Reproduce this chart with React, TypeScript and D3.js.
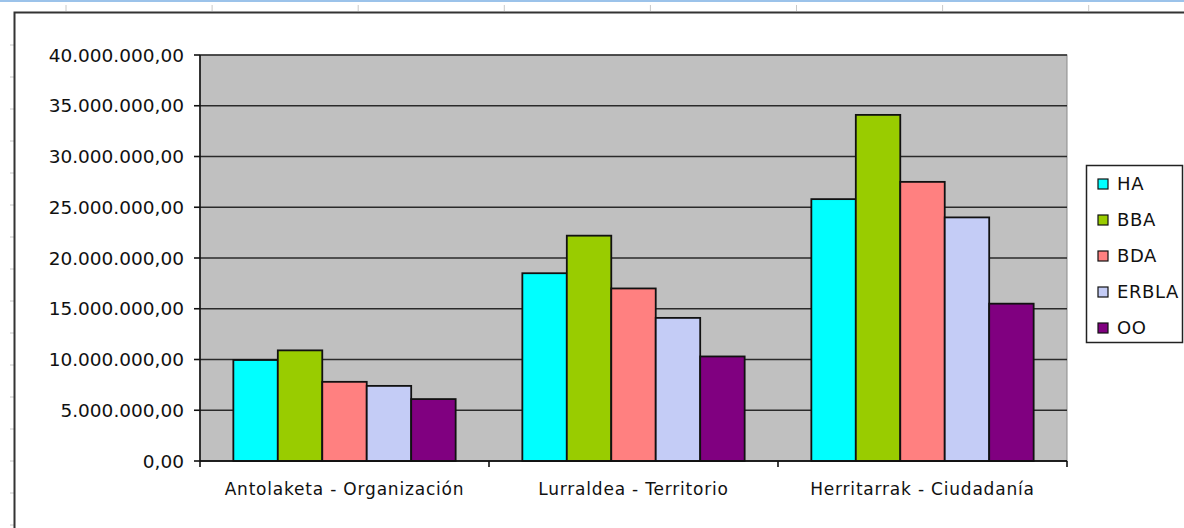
import React, { useEffect } from "react";
import * as d3 from "d3";

// categorías del eje X
const categories = [
  "Antolaketa - Organización",
  "Lurraldea - Territorio",
  "Herritarrak - Ciudadanía",
];

// series
const seriesNames = ["HA", "BBA", "BDA", "ERBLA", "OO"];
const haValues = [9950000, 18500000, 25800000];
const bbaValues = [10900000, 22200000, 34100000];
const bdaValues = [7800000, 17000000, 27500000];
const erblaValues = [7400000, 14100000, 24000000];
const ooValues = [6100000, 10300000, 15500000];

const yTicks = [0, 5000000, 10000000, 15000000, 20000000, 25000000, 30000000, 35000000, 40000000];

const colors = ["#00ffff", "#99cc00", "#ff8080", "#c4ccf6", "#800080"];

const W = 1184;
const H = 528;
const plot = { left: 200, right: 1067, top: 55, bottom: 461 };

const locale = d3.formatLocale({
  decimal: ",",
  thousands: ".",
  grouping: [3],
  currency: ["", ""],
});
const fmt = locale.format(",.2f");

const App = () => {
  useEffect(() => {
    document.body.style.margin = "0";
  }, []);

  const allSeries = [haValues, bbaValues, bdaValues, erblaValues, ooValues];

  const x0 = d3
    .scaleBand<string>()
    .domain(categories)
    .range([plot.left, plot.right])
    .padding(0);

  // 150% de hueco entre grupos (mitad a cada lado)
  const x1 = d3
    .scaleBand<string>()
    .domain(seriesNames)
    .range([0, x0.bandwidth()])
    .paddingInner(0)
    .paddingOuter(0.75);

  const y = d3.scaleLinear().domain([0, 40000000]).range([plot.bottom, plot.top]);

  const font = "'DejaVu Sans', Verdana, sans-serif";

  // marcas de regla (arriba e izquierda)
  const topRuler = d3.range(66, W, 146.1);
  const leftRuler = d3.range(461 % 32, H, 32).filter((v) => v > 20);

  return (
    <svg width={W} height={H} style={{ display: "block", background: "#fff" }}>
      {/* línea azul superior */}
      <line x1={0} x2={W} y1={1} y2={1} stroke="#9cc3ea" strokeWidth={2} />
      {topRuler.map((v, i) => (
        <line key={"tr" + i} x1={v} x2={v} y1={5} y2={11} stroke="#c8c8c8" strokeWidth={1} />
      ))}
      {leftRuler.map((v, i) => (
        <line key={"lr" + i} x1={10} x2={14} y1={v} y2={v} stroke="#c8c8c8" strokeWidth={1} />
      ))}
      {/* marco del gráfico */}
      <path d={`M14.5,${H} L14.5,12.5 L${W},12.5`} fill="none" stroke="#333" strokeWidth={2} />

      {/* área de trazado */}
      <rect
        x={plot.left}
        y={plot.top}
        width={plot.right - plot.left}
        height={plot.bottom - plot.top}
        fill="#c0c0c0"
        stroke="#8a8a8a"
        strokeWidth={1}
      />

      {/* líneas de división */}
      {yTicks.map((t) => (
        <line
          key={"g" + t}
          x1={plot.left}
          x2={plot.right}
          y1={y(t)}
          y2={y(t)}
          stroke="#2a2a2a"
          strokeWidth={1.6}
        />
      ))}

      {/* barras */}
      {categories.map((c, ci) => (
        <g key={c} transform={`translate(${x0(c)},0)`}>
          {seriesNames.map((s, si) => {
            const v = allSeries[si][ci];
            return (
              <rect
                key={s}
                x={x1(s)}
                y={y(v)}
                width={x1.bandwidth()}
                height={y(0) - y(v)}
                fill={colors[si]}
                stroke="#111"
                strokeWidth={1.8}
              />
            );
          })}
        </g>
      ))}

      {/* eje Y */}
      <line x1={plot.left} x2={plot.left} y1={plot.top} y2={plot.bottom} stroke="#111" strokeWidth={1.6} />
      {yTicks.map((t) => (
        <g key={"yt" + t}>
          <line x1={plot.left - 6} x2={plot.left} y1={y(t)} y2={y(t)} stroke="#111" strokeWidth={1.6} />
          <text
            x={plot.left - 16}
            y={y(t)}
            dy="0.36em"
            textAnchor="end"
            fontFamily={font}
            fontSize={18.5}
            fill="#111"
          >
            {fmt(t)}
          </text>
        </g>
      ))}

      {/* eje X */}
      <line x1={plot.left} x2={plot.right} y1={plot.bottom} y2={plot.bottom} stroke="#111" strokeWidth={1.6} />
      {[...categories.map((c) => x0(c) as number), plot.right].map((v, i) => (
        <line key={"xt" + i} x1={v} x2={v} y1={plot.bottom} y2={plot.bottom + 6} stroke="#111" strokeWidth={1.6} />
      ))}
      {categories.map((c) => (
        <text
          key={"xl" + c}
          x={(x0(c) as number) + x0.bandwidth() / 2}
          y={495}
          textAnchor="middle"
          fontFamily={font}
          fontSize={17}
          letterSpacing={0.8}
          fill="#111"
        >
          {c}
        </text>
      ))}

      {/* leyenda */}
      <rect x={1086.5} y={165.5} width={96} height={177} fill="#fff" stroke="#222" strokeWidth={1.5} />
      {seriesNames.map((s, i) => (
        <g key={"lg" + s} transform={`translate(1098,${184 + i * 36})`}>
          <rect x={0} y={-5} width={10} height={10} fill={colors[i]} stroke="#111" strokeWidth={1.2} />
          <text x={19} y={0} dy="0.36em" fontFamily={font} fontSize={18} letterSpacing={0.6} fill="#111">
            {s}
          </text>
        </g>
      ))}
    </svg>
  );
};

export default App;
